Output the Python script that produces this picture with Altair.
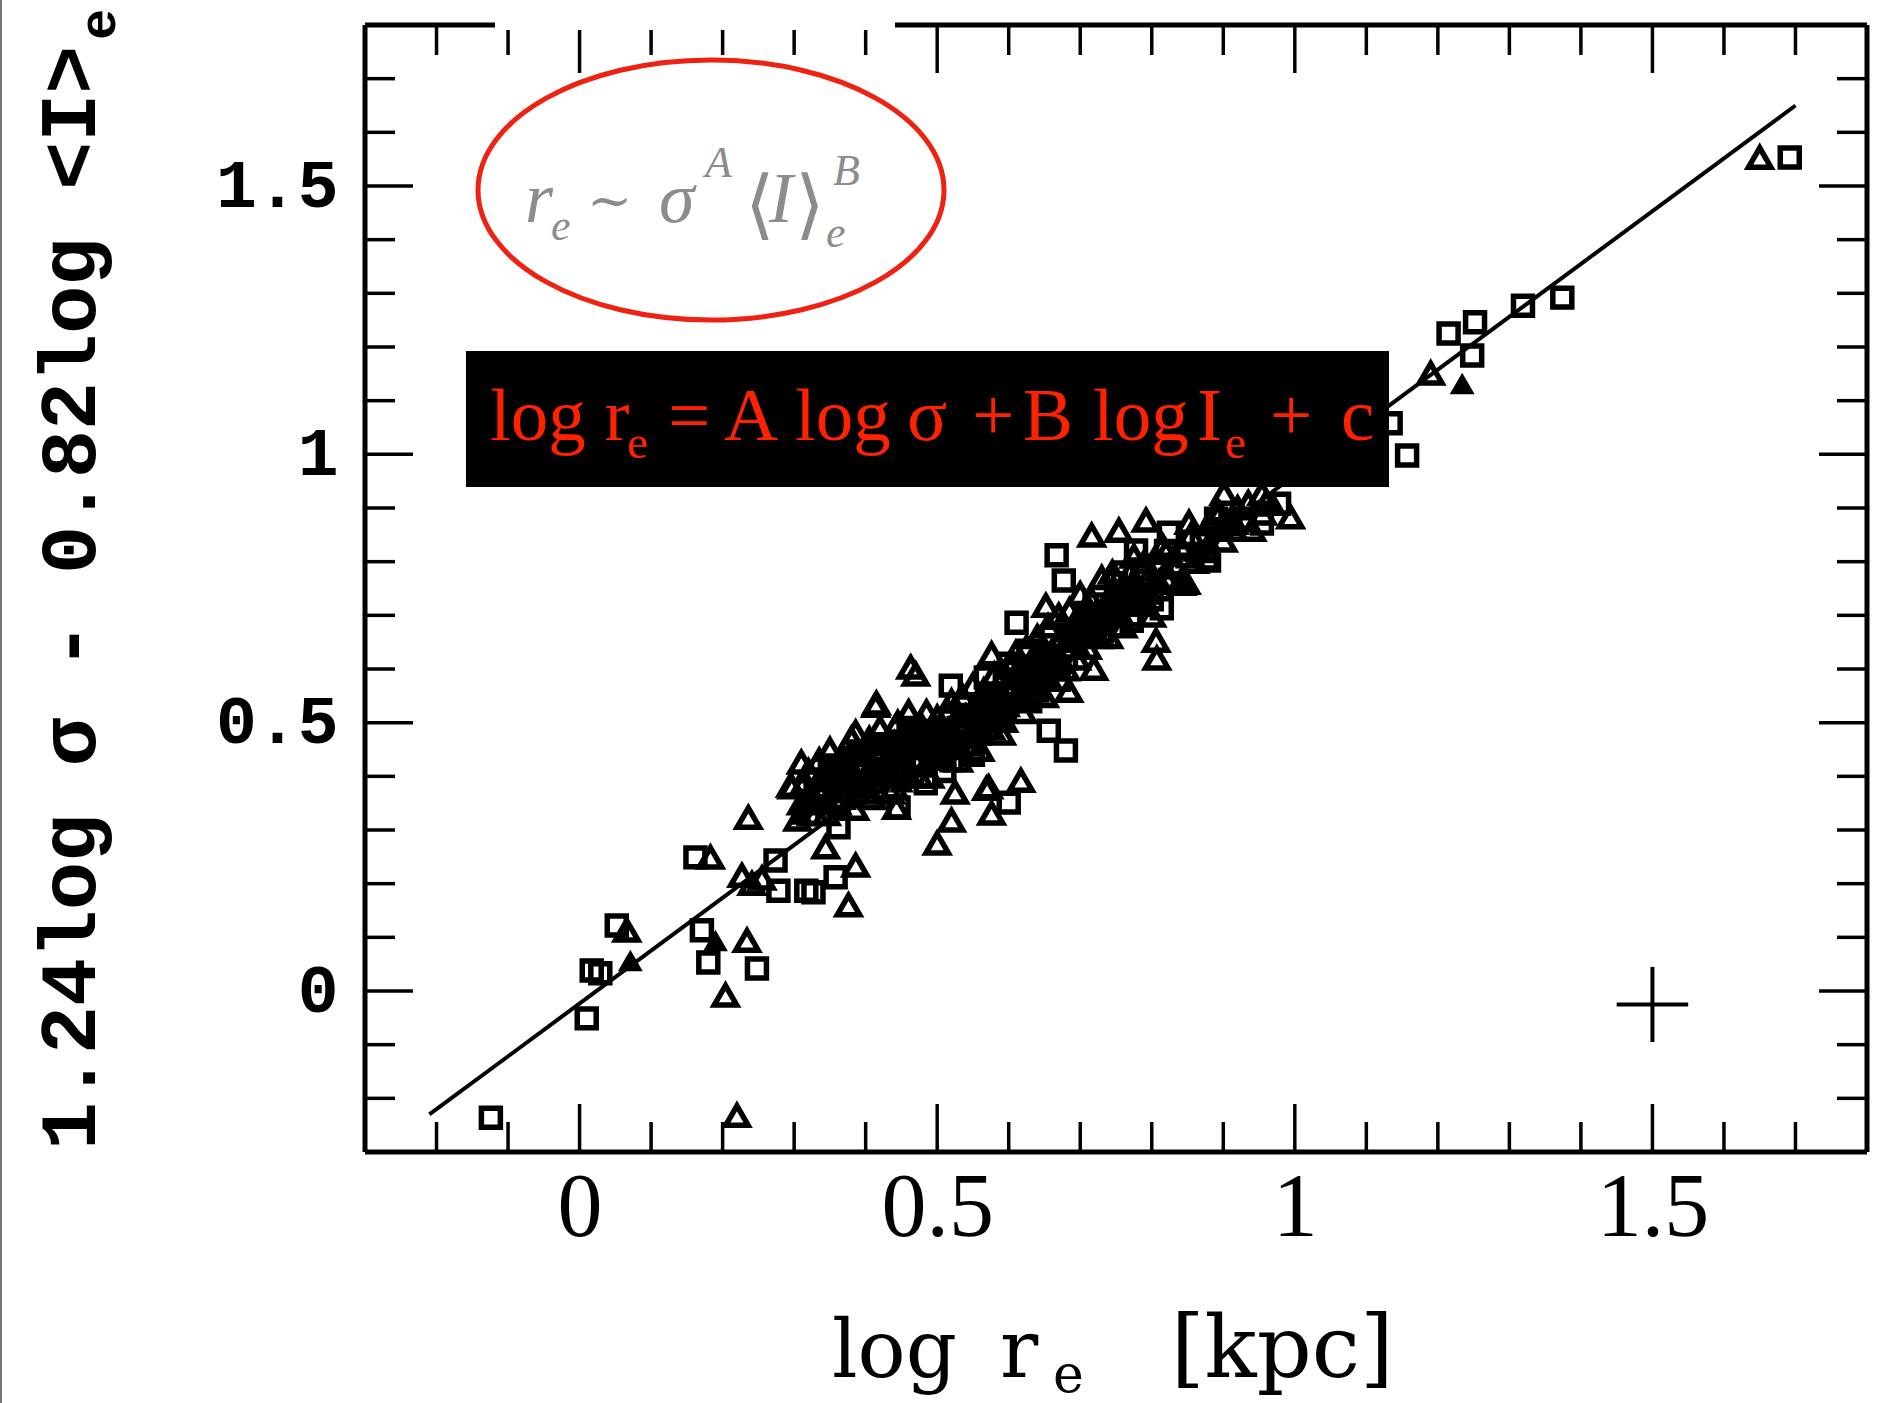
import altair as alt
import pandas as pd

# ---------------- data ----------------
squares = [
    (-0.124, -0.236), (0.010, -0.051), (0.017, 0.038), (0.029, 0.033), (0.052, 0.122),
    (0.162, 0.249), (0.171, 0.113), (0.180, 0.053), (0.248, 0.042), (0.274, 0.243),
    (0.278, 0.187), (0.317, 0.187), (0.327, 0.184), (0.358, 0.212), (0.362, 0.305),
    (0.446, 0.342), (0.484, 0.387), (0.554, 0.489), (0.600, 0.351), (0.611, 0.686),
    (0.628, 0.634), (0.568, 0.584), (0.519, 0.569), (0.656, 0.485), (0.680, 0.448),
    (0.814, 0.713), (0.667, 0.812), (0.824, 0.854), (0.778, 0.821), (0.877, 0.806),
    (0.954, 0.871), (0.978, 0.908), (0.929, 0.877), (0.677, 0.765), (0.772, 0.690),
    (0.656, 0.603), (0.880, 0.802), (1.134, 1.058), (1.157, 0.998), (1.215, 1.225),
    (1.252, 1.246), (1.248, 1.184), (1.319, 1.277), (1.374, 1.292), (1.692, 1.553),
    (0.33, 0.37), (0.35, 0.41), (0.37, 0.36), (0.39, 0.44), (0.41, 0.39), (0.43, 0.46),
    (0.45, 0.41), (0.47, 0.48), (0.49, 0.45), (0.51, 0.41), (0.53, 0.49), (0.55, 0.44),
    (0.57, 0.55), (0.59, 0.53), (0.61, 0.57), (0.63, 0.54), (0.65, 0.62), (0.67, 0.58),
    (0.69, 0.64), (0.71, 0.70), (0.73, 0.67), (0.75, 0.76), (0.77, 0.70), (0.79, 0.75),
    (0.81, 0.79), (0.83, 0.76), (0.87, 0.84), (0.91, 0.87), (1.06, 1.01), (1.10, 1.04),
    (0.32, 0.33), (0.34, 0.36), (0.36, 0.42), (0.38, 0.39), (0.40, 0.37), (0.42, 0.43),
    (0.44, 0.40), (0.46, 0.49), (0.48, 0.42), (0.50, 0.46), (0.52, 0.43), (0.54, 0.53),
    (0.56, 0.48), (0.58, 0.51), (0.60, 0.61), (0.62, 0.58), (0.64, 0.56), (0.66, 0.66),
    (0.68, 0.62), (0.70, 0.67), (0.72, 0.72), (0.74, 0.70), (0.76, 0.78), (0.78, 0.74),
    (0.80, 0.73), (0.82, 0.82), (0.85, 0.81), (0.89, 0.88), (0.93, 0.88),
]

triangles = [
    (0.220, -0.232), (0.204, -0.008), (0.066, 0.113), (0.183, 0.249), (0.236, 0.323),
    (0.227, 0.215), (0.241, 0.200), (0.234, 0.094), (0.255, 0.210), (0.376, 0.160),
    (0.386, 0.234), (0.297, 0.380), (0.310, 0.426), (0.500, 0.275), (0.520, 0.318),
    (0.576, 0.331), (0.617, 0.392), (0.572, 0.380), (0.386, 0.482), (0.295, 0.383),
    (0.414, 0.532), (0.443, 0.342), (0.569, 0.377), (0.593, 0.504), (0.344, 0.268),
    (0.652, 0.718), (0.576, 0.628), (0.463, 0.603), (0.684, 0.560), (0.719, 0.601),
    (0.807, 0.620), (0.806, 0.653), (0.716, 0.849), (0.754, 0.858), (0.792, 0.877),
    (0.852, 0.873), (0.820, 0.817), (0.891, 0.896), (0.901, 0.927), (0.954, 0.927),
    (0.994, 0.883), (0.842, 0.759), (0.415, 0.536), (0.848, 0.761), (1.190, 1.151),
    (1.650, 1.553), (0.47, 0.59), (0.62, 0.585), (0.525, 0.37),
    (0.31, 0.35), (0.32, 0.41), (0.33, 0.33), (0.34, 0.38), (0.35, 0.45), (0.36, 0.35),
    (0.37, 0.41), (0.38, 0.47), (0.39, 0.38), (0.40, 0.44), (0.41, 0.36), (0.42, 0.49),
    (0.43, 0.42), (0.44, 0.38), (0.45, 0.46), (0.46, 0.52), (0.47, 0.43), (0.48, 0.49),
    (0.49, 0.40), (0.50, 0.51), (0.51, 0.46), (0.52, 0.54), (0.53, 0.43), (0.54, 0.50),
    (0.55, 0.57), (0.56, 0.45), (0.57, 0.52), (0.58, 0.59), (0.59, 0.48), (0.60, 0.56),
    (0.61, 0.63), (0.62, 0.52), (0.63, 0.59), (0.64, 0.66), (0.65, 0.55), (0.66, 0.63),
    (0.67, 0.70), (0.68, 0.60), (0.69, 0.67), (0.70, 0.74), (0.71, 0.64), (0.72, 0.70),
    (0.73, 0.77), (0.74, 0.66), (0.75, 0.72), (0.76, 0.68), (0.77, 0.78), (0.78, 0.72),
    (0.79, 0.80), (0.80, 0.70), (0.82, 0.77), (0.84, 0.83), (0.86, 0.80), (0.88, 0.87),
    (0.90, 0.84), (0.92, 0.90), (0.94, 0.86), (0.96, 0.91),
    (0.305, 0.32), (0.315, 0.39), (0.325, 0.36), (0.335, 0.43), (0.345, 0.33),
    (0.355, 0.40), (0.365, 0.43), (0.375, 0.38), (0.385, 0.34), (0.395, 0.42),
    (0.405, 0.47), (0.415, 0.40), (0.425, 0.45), (0.435, 0.37), (0.445, 0.50),
    (0.455, 0.43), (0.465, 0.47), (0.475, 0.40), (0.485, 0.52), (0.495, 0.44),
    (0.505, 0.48), (0.515, 0.52), (0.525, 0.47), (0.535, 0.55), (0.545, 0.46),
    (0.555, 0.51), (0.565, 0.56), (0.575, 0.49), (0.585, 0.54), (0.595, 0.59),
    (0.605, 0.61), (0.615, 0.55), (0.625, 0.64), (0.635, 0.57), (0.645, 0.63),
    (0.655, 0.68), (0.665, 0.60), (0.675, 0.66), (0.685, 0.71), (0.695, 0.62),
    (0.705, 0.68), (0.715, 0.73), (0.725, 0.66), (0.735, 0.72), (0.745, 0.78),
    (0.755, 0.70), (0.765, 0.75), (0.775, 0.81), (0.785, 0.74), (0.795, 0.77),
    (0.815, 0.83), (0.835, 0.79), (0.855, 0.85), (0.875, 0.82), (0.895, 0.89),
    (0.915, 0.86), (0.935, 0.91), (0.955, 0.89),
]

filled_triangles = [
    (0.071, 0.057), (0.190, 0.094), (1.234, 1.132), (0.45, 0.48), (0.85, 0.76),
    (0.36, 0.39), (0.40, 0.41), (0.44, 0.47), (0.48, 0.45), (0.52, 0.50), (0.56, 0.54),
    (0.60, 0.58), (0.64, 0.61), (0.68, 0.65), (0.72, 0.68), (0.76, 0.74), (0.80, 0.76),
    (0.97, 0.91), (1.08, 1.03),
    (0.33, 0.39), (0.35, 0.37), (0.37, 0.44), (0.39, 0.40), (0.41, 0.46), (0.43, 0.40),
    (0.45, 0.44), (0.47, 0.46), (0.49, 0.49), (0.51, 0.48), (0.53, 0.45), (0.55, 0.53),
    (0.57, 0.50), (0.59, 0.55), (0.61, 0.54), (0.63, 0.62), (0.65, 0.60), (0.67, 0.63),
    (0.69, 0.69), (0.71, 0.67), (0.73, 0.70), (0.75, 0.75), (0.77, 0.73), (0.79, 0.72),
    (0.81, 0.77), (0.83, 0.81), (0.87, 0.82), (0.91, 0.88),
    (0.32, 0.37), (0.34, 0.41), (0.345, 0.36), (0.36, 0.43), (0.38, 0.36), (0.38, 0.42),
    (0.40, 0.38), (0.40, 0.46), (0.42, 0.41), (0.42, 0.46), (0.44, 0.43), (0.46, 0.41),
    (0.46, 0.46), (0.48, 0.48), (0.50, 0.44), (0.50, 0.49), (0.52, 0.47), (0.54, 0.47),
    (0.54, 0.52), (0.56, 0.51), (0.58, 0.53), (0.58, 0.56), (0.60, 0.53), (0.62, 0.56),
    (0.62, 0.61), (0.64, 0.59), (0.66, 0.58), (0.66, 0.64), (0.68, 0.67), (0.70, 0.64),
    (0.70, 0.69), (0.72, 0.66), (0.74, 0.72), (0.76, 0.70), (0.78, 0.76), (0.80, 0.74),
    (0.82, 0.79), (0.84, 0.77), (0.86, 0.82), (0.88, 0.84), (0.90, 0.86), (0.92, 0.87),
    (0.31, 0.33), (0.33, 0.35), (0.35, 0.42), (0.37, 0.39), (0.39, 0.45), (0.41, 0.42),
    (0.43, 0.44), (0.45, 0.39), (0.47, 0.50), (0.49, 0.43), (0.51, 0.44), (0.53, 0.51),
    (0.55, 0.48), (0.57, 0.56), (0.59, 0.51), (0.61, 0.60), (0.63, 0.57), (0.65, 0.64),
    (0.67, 0.60), (0.69, 0.65), (0.71, 0.71), (0.73, 0.68), (0.75, 0.71), (0.77, 0.76),
]

fit_x = [-0.21, 1.70]
fit_y = [-0.23, 1.65]

err_center = (1.5, -0.025)
err_half = (0.05, 0.07)

tick_major = [0, 0.5, 1, 1.5]
tick_minor = [-0.2, -0.1, 0.1, 0.2, 0.3, 0.4, 0.6, 0.7, 0.8, 0.9,
              1.1, 1.2, 1.3, 1.4, 1.6, 1.7]

# ---------------- layout ----------------
W, H = 1502, 1127
PAD = {"left": 365, "top": 25, "right": 11, "bottom": 251}
MAJOR_LEN, MINOR_LEN = 48, 30
RED = "#ff2200"
GRAY = "#8c8c8c"

xs = alt.Scale(domain=[-0.3, 1.8], nice=False, zero=False)
ys = alt.Scale(domain=[-0.3, 1.8], nice=False, zero=False)

xaxis = alt.Axis(values=tick_major, format="~g", ticks=False, domain=False, grid=False,
                 title=None, labelFont="Liberation Serif", labelFontSize=90,
                 labelColor="black", labelPadding=83, labelBaseline="alphabetic")
yaxis = alt.Axis(values=tick_major, format="~g", ticks=False, domain=False, grid=False,
                 title=None, labelFont="Liberation Mono", labelFontSize=68,
                 labelFontWeight="bold", labelColor="black", labelPadding=27)


def X(field):
    return alt.X(field, scale=xs, axis=xaxis)


def Y(field):
    return alt.Y(field, scale=ys, axis=yaxis)


def pts(pairs):
    return pd.DataFrame({"x": [p[0] for p in pairs], "y": [p[1] for p in pairs]})


layers = []

layers.append(alt.Chart(pts(squares)).mark_point(
    shape="square", size=360, filled=False, color="black", strokeWidth=5.5, opacity=1
).encode(x=X("x:Q"), y=Y("y:Q")))

layers.append(alt.Chart(pts(triangles)).mark_point(
    shape="triangle-up", size=500, filled=False, color="black", strokeWidth=5.5, opacity=1
).encode(x=X("x:Q"), y=Y("y:Q")))

layers.append(alt.Chart(pts(filled_triangles)).mark_point(
    shape="triangle-up", size=620, filled=True, color="black", opacity=1
).encode(x=X("x:Q"), y=Y("y:Q")))

layers.append(alt.Chart(pd.DataFrame({"x": fit_x, "y": fit_y})).mark_line(
    color="black", strokeWidth=4
).encode(x=X("x:Q"), y=Y("y:Q")))

# error cross
err_df = pd.DataFrame({"cx": [err_center[0]], "cy": [err_center[1]],
                       "dx": [err_half[0]], "dy": [err_half[1]]})
layers.append(alt.Chart(err_df).transform_calculate(
    xa="datum.cx - datum.dx", xb="datum.cx + datum.dx"
).mark_rule(color="black", strokeWidth=4).encode(x=X("xa:Q"), x2="xb:Q", y=Y("cy:Q")))
layers.append(alt.Chart(err_df).transform_calculate(
    ya="datum.cy - datum.dy", yb="datum.cy + datum.dy"
).mark_rule(color="black", strokeWidth=4).encode(y=Y("ya:Q"), y2="yb:Q", x=X("cx:Q")))


# inward ticks on all four sides
def tick_layer(vals, length, side):
    d = pd.DataFrame({"v": vals})
    base = alt.Chart(d).mark_rule(color="black", strokeWidth=3.5)
    if side == "left":
        return base.encode(y=Y("v:Q"), x=alt.value(0), x2=alt.value(length))
    if side == "right":
        return base.encode(y=Y("v:Q"), x=alt.value(W), x2=alt.value(W - length))
    if side == "top":
        return base.encode(x=X("v:Q"), y=alt.value(0), y2=alt.value(length))
    return base.encode(x=X("v:Q"), y=alt.value(H), y2=alt.value(H - length))


for side in ["left", "right", "top", "bottom"]:
    layers.append(tick_layer(tick_major, MAJOR_LEN, side))
    layers.append(tick_layer(tick_minor, MINOR_LEN, side))

one = pd.DataFrame({"k": [0]})

# frame
frame_specs = [
    dict(x=alt.value(0), x2=alt.value(W), y=alt.value(0)),
    dict(x=alt.value(0), x2=alt.value(W), y=alt.value(H)),
    dict(y=alt.value(0), y2=alt.value(H), x=alt.value(0)),
    dict(y=alt.value(0), y2=alt.value(H), x=alt.value(W)),
]
for fs in frame_specs:
    layers.append(alt.Chart(one).mark_rule(color="black", strokeWidth=5).encode(**fs))

# white patch over the top frame
layers.append(alt.Chart(one).mark_rect(color="white").encode(
    x=alt.value(130), x2=alt.value(530), y=alt.value(-25), y2=alt.value(5)))

# page-edge line on the far left
layers.append(alt.Chart(one).mark_rule(color="#777777", strokeWidth=2).encode(
    x=alt.value(-364), y=alt.value(-25), y2=alt.value(1378)))

# black box
layers.append(alt.Chart(one).mark_rect(color="black").encode(
    x=alt.value(101), x2=alt.value(1024), y=alt.value(326), y2=alt.value(462)))

# red ellipse
ellipse_path = "M -1 0 A 1 0.558 0 1 1 1 0 A 1 0.558 0 1 1 -1 0 Z"
layers.append(alt.Chart(one).mark_point(
    shape=ellipse_path, size=466 * 466, filled=False, color="#ee2211", strokeWidth=5, opacity=1
).encode(x=alt.value(346), y=alt.value(165)))


def txt(text, px, py, size, font="Liberation Serif", color="black", weight="normal",
        style="normal", angle=0, align="left", baseline="alphabetic"):
    return alt.Chart(one).mark_text(
        text=text, font=font, fontSize=size, color=color, fontWeight=weight,
        fontStyle=style, angle=angle, align=align, baseline=baseline
    ).encode(x=alt.value(px), y=alt.value(py))


# red formula in the black box
RS, SS = 75, 47
red_parts = [("log r", 125), ("=", 303), ("A", 359), ("log", 430), ("σ", 542),
             ("+", 607), ("B", 658), ("log", 728), ("I", 832), ("+", 905), ("c", 976)]
for t, px in red_parts:
    layers.append(txt(t, px, 415, RS, color=RED))
layers.append(txt("e", 262, 433, SS, color=RED))
layers.append(txt("e", 860, 433, SS, color=RED))

# gray formula in the ellipse
layers += [
    txt("r", 160, 197, 72, color=GRAY, style="italic"),
    txt("e", 186, 215, 44, color=GRAY, style="italic"),
    txt("∼", 222, 194, 54, font="DejaVu Serif", color=GRAY),
    txt("σ", 294, 197, 72, color=GRAY, style="italic"),
    txt("A", 340, 152, 44, color=GRAY, style="italic"),
    txt("⟨", 380, 205, 76, font="DejaVu Serif", color=GRAY),
    txt("I", 404, 197, 72, color=GRAY, style="italic"),
    txt("⟩", 430, 205, 76, font="DejaVu Serif", color=GRAY),
    txt("B", 468, 160, 44, color=GRAY, style="italic"),
    txt("e", 461, 222, 44, color=GRAY, style="italic"),
]

# x title
layers += [
    txt("log", 467, 1352, 80, font="DejaVu Serif"),
    txt("r", 635, 1352, 80, font="DejaVu Serif"),
    txt("e", 688, 1367, 52, font="DejaVu Serif"),
    txt("[kpc]", 806, 1352, 86, font="DejaVu Serif"),
]

# y title (rotated)
layers += [
    txt("1.24log σ - 0.82log <I>", -270, 1125, 80, font="Liberation Mono",
        weight="bold", angle=270),
    txt("e", -250, 15, 52, font="Liberation Mono", weight="bold", angle=270),
]

chart = alt.layer(*layers).properties(
    width=W, height=H, padding=PAD,
    autosize=alt.AutoSizeParams(type="none"), background="white"
).configure_view(stroke=None)

chart.save("out.html", embed_options={"renderer": "svg", "actions": False})
